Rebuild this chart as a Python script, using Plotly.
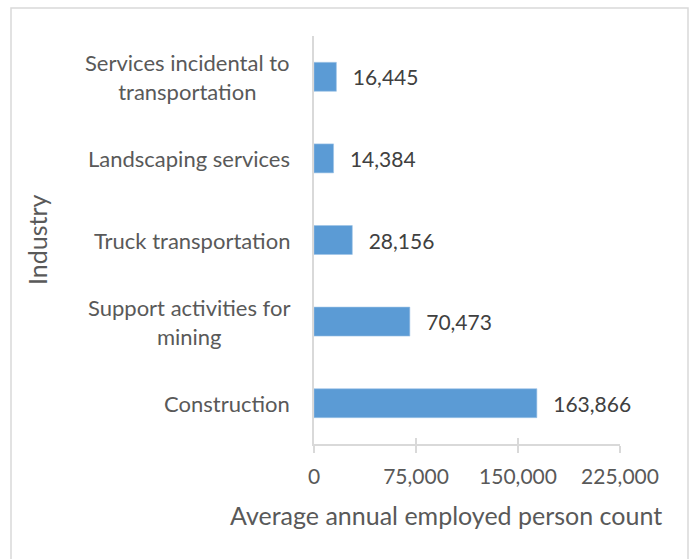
import plotly.graph_objects as go

# data (bottom to top, as drawn)
industries = [
    "Construction",
    "Support activities for<br>mining",
    "Truck transportation",
    "Landscaping services",
    "Services incidental to<br>transportation",
]
employed = [163866, 70473, 28156, 14384, 16445]
x_ticks = [0, 75000, 150000, 225000]

W, H = 692, 559
L, R, T, B = 314, 72, 36, 115
pw, ph = W - L - R, H - T - B

FONT = "Lato"
TEXT = "#595959"
GRID = "#d9d9d9"
BAR = "#5b9bd5"

fig = go.Figure()
fig.add_trace(go.Bar(
    x=employed, y=industries, orientation="h",
    marker=dict(color=BAR, line=dict(color="#9dc3e6", width=0.6)),
    text=["\u00a0\u00a0\u2009" + f"{v:,}" for v in employed],
    textposition="outside", cliponaxis=False,
    textfont=dict(family=FONT, size=21, color="#404040"),
    hoverinfo="skip",
))
# empty trace so the overlay axis (inside half of crossing ticks) is drawn
fig.add_trace(go.Scatter(x=[None], y=[None], xaxis="x2", showlegend=False))

# category labels as centred multi-line annotations
for name in industries:
    fig.add_annotation(
        x=-22 / pw, xref="paper", y=name, yref="y",
        text=name, showarrow=False, xanchor="right", yanchor="middle",
        align="center",
        font=dict(family=FONT, size=22, color=TEXT),
    )

fig.add_annotation(
    x=(37 - L) / pw, xref="paper", y=(H - B - 240) / ph, yref="paper",
    xanchor="center", yanchor="middle",
    text="Industry", textangle=-90, showarrow=False,
    font=dict(family=FONT, size=25, color=TEXT),
)
fig.add_annotation(
    x=(446 - L) / pw, xref="paper", y=(H - B - 515) / ph, yref="paper",
    xanchor="center", yanchor="middle",
    text="Average annual employed person count", showarrow=False,
    font=dict(family=FONT, size=25, color=TEXT),
)

# chart border
fig.add_shape(
    type="rect", xref="paper", yref="paper", layer="below",
    x0=(11 - L) / pw, x1=(688 - L) / pw,
    y0=(H - B - 575) / ph, y1=(H - B - 8) / ph,
    line=dict(color=GRID, width=1.5),
)

fig.update_layout(
    width=W, height=H,
    margin=dict(l=L, r=R, t=T, b=B),
    paper_bgcolor="white", plot_bgcolor="white",
    showlegend=False, bargap=0.645,
    font=dict(family=FONT, color=TEXT),
    xaxis=dict(
        range=[0, 225000], tickvals=x_ticks, tickformat=",",
        showgrid=False, zeroline=False,
        showline=True, linecolor=GRID, linewidth=1.5,
        ticks="outside", ticklen=7, tickwidth=1.5, tickcolor=GRID,
        ticklabelstandoff=6,
        tickfont=dict(family=FONT, size=21, color=TEXT),
    ),
    xaxis2=dict(
        overlaying="x", anchor="y", side="bottom", matches="x",
        tickvals=x_ticks, showticklabels=False, showgrid=False, zeroline=False,
        ticks="inside", ticklen=6, tickwidth=1.5, tickcolor=GRID,
    ),
    yaxis=dict(
        showticklabels=False, ticks="", showgrid=False, zeroline=False,
        showline=True, linecolor=GRID, linewidth=1.5,
    ),
)

fig.write_html(
    "out.html",
    config={"displayModeBar": False},
    post_script="document.body.style.margin='0';",
)
